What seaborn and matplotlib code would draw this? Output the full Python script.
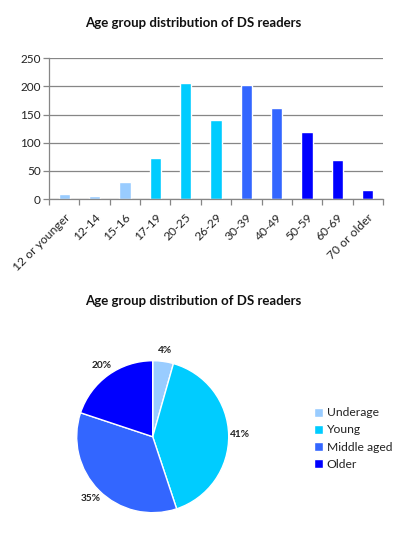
import matplotlib
matplotlib.use("Agg")
import matplotlib.pyplot as plt
import seaborn as sns
import pandas as pd
import numpy as np

categories = ["12 or younger", "12-14", "15-16", "17-19", "20-25", "26-29",
              "30-39", "40-49", "50-59", "60-69", "70 or older"]
readers = [8, 6, 31, 72, 206, 141, 203, 162, 119, 70, 16]
bar_colors = ["#99CCFF", "#99CCFF", "#99CCFF", "#00CCFF", "#00CCFF", "#00CCFF",
              "#3366FF", "#3366FF", "#0000FF", "#0000FF", "#0000FF"]

groups = ["Underage", "Young", "Middle aged", "Older"]
group_share = [4.4, 40.5, 35.2, 19.9]
group_labels = ["4%", "41%", "35%", "20%"]
group_colors = ["#99CCFF", "#00CCFF", "#3366FF", "#0000FF"]

title_text = "Age group distribution of DS readers"

sns.set_style("white")
plt.rcParams["font.family"] = ["Lato", "DejaVu Sans"]

fig = plt.figure(figsize=(3.94, 5.53), dpi=100)
W, H = 394, 553

# ---- bar chart ----
ax = fig.add_axes([49 / W, 1 - 199 / H, (383 - 49) / W, (199 - 58.3) / H])
df = pd.DataFrame({"age": categories, "readers": readers})
sns.barplot(data=df, x="age", y="readers", hue="age", palette=bar_colors,
            legend=False, width=0.37, ax=ax, saturation=1)
ax.set_ylim(0, 250)
ax.set_xlim(-0.5, len(categories) - 0.5)
ax.set_yticks([0, 50, 100, 150, 200, 250])
ax.yaxis.grid(True, color="#868686", linewidth=0.9)
ax.set_axisbelow(True)
ax.set_xlabel("")
ax.set_ylabel("")
for s in ["top", "right"]:
    ax.spines[s].set_visible(False)
for s in ["left", "bottom"]:
    ax.spines[s].set_color("#868686")
    ax.spines[s].set_linewidth(0.9)
ax.tick_params(axis="y", which="major", length=4, width=0.9, color="#868686",
               labelsize=8.5, labelcolor="#222222", left=True, pad=2)
ax.set_xticks(range(len(categories)))
ax.set_xticklabels(categories, rotation=45, ha="right", rotation_mode="anchor",
                   fontsize=8.7, color="#222222")
ax.tick_params(axis="x", which="major", length=0, pad=9)
ax.set_xticks(np.arange(-0.5, len(categories), 1.0), minor=True)
ax.tick_params(axis="x", which="minor", length=4, width=0.9, color="#868686",
               bottom=True)

fig.text(193 / W, 1 - 23 / H, title_text, ha="center", va="center",
         fontsize=9.5, fontweight="bold", color="#111111")

# ---- pie chart ----
cx, cy, r = 152.7, 436.7, 76
pax = fig.add_axes([(cx - r) / W, 1 - (cy + r) / H, 2 * r / W, 2 * r / H])
wedges, _ = pax.pie(group_share, colors=group_colors, startangle=90,
                    counterclock=False, radius=1.0)
pax.set_xlim(-1, 1)
pax.set_ylim(-1, 1)
pax.set_aspect("auto")
total = sum(group_share)
ang = 90.0
for share, lab in zip(group_share, group_labels):
    span = share / total * 360
    mid = np.deg2rad(ang - span / 2)
    ang -= span
    pax.text(1.15 * np.cos(mid), 1.15 * np.sin(mid), lab, ha="center",
             va="center", fontsize=7.3, fontweight="bold", color="#222222")

fig.text(193.7 / W, 1 - 301 / H, title_text, ha="center", va="center",
         fontsize=9.5, fontweight="bold", color="#111111")

fig.legend(wedges, groups, loc="center left", bbox_to_anchor=(314 / W, 1 - 438.5 / H),
           frameon=False, fontsize=8.7, handlelength=0.75, handleheight=0.75,
           handletextpad=0.3, labelspacing=0.5, borderpad=0, borderaxespad=0,
           labelcolor="#222222")

fig.savefig("out.png", dpi=100)
